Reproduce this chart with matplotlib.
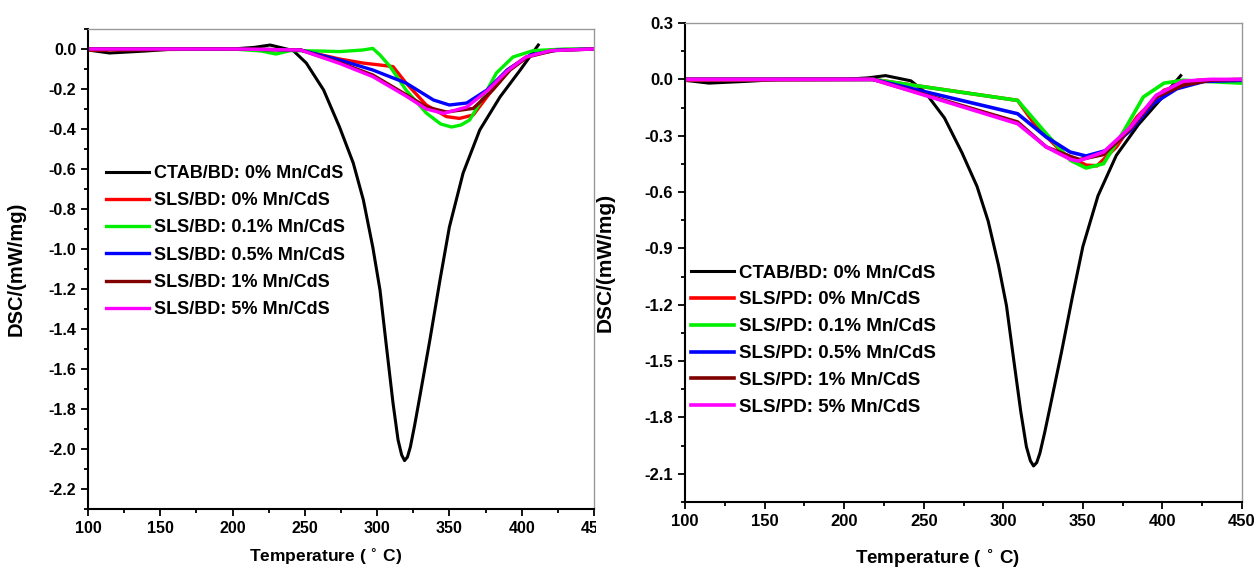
import numpy as np
import matplotlib.pyplot as plt
from matplotlib.ticker import MultipleLocator
from matplotlib.patches import Rectangle

plt.rcParams['font.family'] = ['Liberation Sans', 'DejaVu Sans']
plt.rcParams['font.weight'] = 'bold'
plt.rcParams['mathtext.default'] = 'bf'

# CTAB/BD reference curve (same in both panels)
t_ctab = [100, 115, 140, 160, 200, 215, 226, 242, 251, 263, 274, 283.5, 290.5, 297, 302,
          306.5, 311, 314.5, 317, 319, 321, 323, 326, 329.5, 336.5, 343.5, 350, 359.5, 371,
          385, 399, 411.5]
v_ctab = [-0.005, -0.02, -0.01, 0.0, 0.0, 0.008, 0.02, -0.008, -0.07, -0.205, -0.39, -0.57,
          -0.755, -0.99, -1.205, -1.49, -1.77, -1.955, -2.03, -2.058, -2.04, -1.99, -1.88,
          -1.74, -1.455, -1.155, -0.89, -0.62, -0.405, -0.24, -0.105, 0.02]

# left panel: SLS/BD
t_bd_0 = [100, 200, 247, 274, 290, 302, 311, 320, 334, 348, 357, 366.5, 378, 390, 403,
          420, 450]
v_bd_0 = [-0.005, 0.0, -0.005, -0.05, -0.07, -0.08, -0.088, -0.17, -0.28, -0.338, -0.347,
          -0.33, -0.22, -0.105, -0.04, -0.005, 0.0]
t_bd_01 = [100, 200, 220, 230, 240, 260, 274, 290, 297, 302, 309, 320, 334, 344, 351.5,
           358, 364, 373.5, 382.5, 394, 408, 430, 450]
v_bd_01 = [0.0, 0.0, -0.01, -0.025, -0.008, -0.01, -0.013, -0.005, 0.003, -0.03, -0.088,
           -0.205, -0.32, -0.375, -0.39, -0.38, -0.355, -0.24, -0.12, -0.04, -0.008, 0.0, 0.0]
t_bd_05 = [100, 200, 247, 274, 297, 320, 339, 350, 362, 376, 390, 406, 425, 450]
v_bd_05 = [0.0, 0.0, -0.005, -0.055, -0.105, -0.17, -0.255, -0.28, -0.27, -0.205, -0.105,
           -0.03, -0.005, 0.0]
t_bd_1 = [100, 200, 247, 274, 297, 320, 334, 348, 366.5, 380, 392, 404, 422, 450]
v_bd_1 = [0.0, 0.0, -0.005, -0.068, -0.13, -0.228, -0.29, -0.315, -0.297, -0.205, -0.105,
          -0.04, -0.008, 0.0]
t_bd_5 = [100, 200, 247, 274, 297, 320, 334, 346, 362, 376, 390, 403, 420, 450]
v_bd_5 = [0.0, 0.0, -0.005, -0.072, -0.138, -0.235, -0.3, -0.322, -0.29, -0.21, -0.11,
          -0.04, -0.008, 0.0]

# right panel: SLS/PD
t_pd_0 = [100, 218, 309, 321, 338, 352, 359, 371, 384, 401, 422, 450]
v_pd_0 = [-0.005, 0.0, -0.112, -0.254, -0.395, -0.457, -0.46, -0.36, -0.2, -0.058,
          -0.005, -0.005]
t_pd_01 = [100, 218, 309, 327, 342, 352, 363, 376, 388, 401, 413, 450]
v_pd_01 = [0.0, 0.0, -0.112, -0.289, -0.43, -0.472, -0.449, -0.271, -0.094, -0.02,
           -0.005, -0.02]
t_pd_05 = [100, 218, 309, 327, 342, 352, 365, 380, 394, 409, 426, 450]
v_pd_05 = [0.0, 0.0, -0.183, -0.307, -0.387, -0.408, -0.378, -0.271, -0.13, -0.05,
           -0.011, -0.005]
t_pd_1 = [100, 218, 309, 327, 342, 348, 363, 380, 396, 413, 430, 450]
v_pd_1 = [0.0, 0.0, -0.227, -0.36, -0.41, -0.427, -0.40, -0.262, -0.094, -0.031, -0.005, 0.0]
t_pd_5 = [100, 218, 309, 327, 342, 347, 363, 380, 396, 413, 430, 450]
v_pd_5 = [0.0, 0.0, -0.236, -0.36, -0.425, -0.435, -0.387, -0.254, -0.085, -0.01, 0.0, 0.0]

colors = ['red', '#00ee00', 'blue', '#800000', '#ff00ff']
pcts = ['0%', '0.1%', '0.5%', '1%', '5%']

fig = plt.figure(figsize=(12.6, 5.71), dpi=100)
ax1 = fig.add_axes([0.0698, 0.1086, 0.4016, 0.8406])
ax2 = fig.add_axes([0.5437, 0.1208, 0.4420, 0.8389])


def style(ax, ymaj, ymin, fs):
    ax.set_xlim(100, 450)
    ax.xaxis.set_major_locator(MultipleLocator(50))
    ax.xaxis.set_minor_locator(MultipleLocator(25))
    ax.yaxis.set_major_locator(MultipleLocator(ymaj))
    ax.yaxis.set_minor_locator(MultipleLocator(ymin))
    ax.tick_params(which='both', direction='out', width=1.3, top=False, right=False,
                   labelsize=fs)
    ax.tick_params(which='major', length=5)
    ax.tick_params(which='minor', length=3)
    for s in ['top', 'right']:
        ax.spines[s].set_color('#999999')
        ax.spines[s].set_linewidth(1.0)
    for s in ['left', 'bottom']:
        ax.spines[s].set_linewidth(1.5)
    for lab in ax.get_xticklabels() + ax.get_yticklabels():
        lab.set_fontweight('bold')


# left
ax1.plot(t_ctab, v_ctab, color='black', lw=2.2, label='CTAB/BD: 0% Mn/CdS')
for t, v, c, p in zip([t_bd_0, t_bd_01, t_bd_05, t_bd_1, t_bd_5],
                      [v_bd_0, v_bd_01, v_bd_05, v_bd_1, v_bd_5], colors, pcts):
    ax1.plot(t, v, color=c, lw=2.4, label='SLS/BD: %s Mn/CdS' % p)
ax1.set_ylim(-2.3, 0.1)
style(ax1, 0.2, 0.1, 11.5)
ax1.yaxis.set_major_formatter(plt.FuncFormatter(lambda v, p: '%.1f' % v))
ax1.set_ylabel('DSC/(mW/mg)', fontsize=14.5, fontweight='bold')
ax1.set_xlabel('Temperature ( $^{\\circ}$ C)', fontsize=12.5, fontweight='bold')
ax1.yaxis.set_label_coords(-0.1225, 0.5)
ax1.xaxis.set_label_coords(0.469, -0.079)
ax1.legend(loc='upper left', bbox_to_anchor=(0.035, 0.717), frameon=False,
           prop={'size': 13, 'weight': 'bold'}, handlelength=2.4, handletextpad=0.3,
           labelspacing=0.57, borderpad=0, borderaxespad=0)

# right
ax2.plot(t_ctab, v_ctab, color='black', lw=2.2, label='CTAB/BD: 0% Mn/CdS')
for t, v, c, p in zip([t_pd_0, t_pd_01, t_pd_05, t_pd_1, t_pd_5],
                      [v_pd_0, v_pd_01, v_pd_05, v_pd_1, v_pd_5], colors, pcts):
    ax2.plot(t, v, color=c, lw=2.6, label='SLS/PD: %s Mn/CdS' % p)
ax2.set_ylim(-2.25, 0.3)
style(ax2, 0.3, 0.15, 12)
ax2.yaxis.set_major_formatter(plt.FuncFormatter(lambda v, p: '%.1f' % v))
ax2.set_ylabel('DSC/(mW/mg)', fontsize=15, fontweight='bold')
ax2.set_xlabel('Temperature ( $^{\\circ}$ C)', fontsize=13.5, fontweight='bold')
ax2.yaxis.set_label_coords(-0.127, 0.5)
ax2.xaxis.set_label_coords(0.453, -0.094)
ax2.legend(loc='upper left', bbox_to_anchor=(0.01, 0.496), frameon=False,
           prop={'size': 13.5, 'weight': 'bold'}, handlelength=2.3, handletextpad=0.3,
           labelspacing=0.52, borderpad=0, borderaxespad=0)

# the left picture is cut right after its last tick label starts
fig.patches.append(Rectangle((596 / 1260, 0), 30 / 1260, 60 / 571, transform=fig.transFigure,
                             facecolor='white', edgecolor='none', zorder=10))

plt.savefig('out.png', dpi=100)
